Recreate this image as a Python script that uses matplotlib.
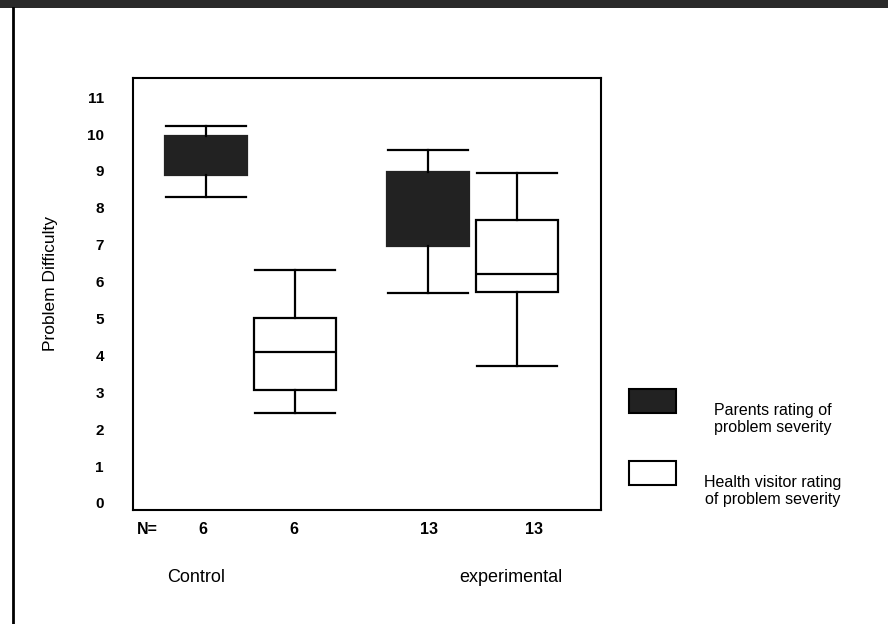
import matplotlib.pyplot as plt
from matplotlib.patches import Rectangle
from matplotlib.lines import Line2D

plt.rcParams['font.family'] = ['Liberation Sans', 'DejaVu Sans']

# data
groups = ['Control', 'experimental']
raters = ['Parents rating of\nproblem severity', 'Health visitor rating\nof problem severity']
n_counts = [6, 6, 13, 13]
whisker_low = [8.29, 2.44, 5.68, 3.72]
q1 = [8.89, 3.06, 6.96, 5.71]
median = [9.4, 4.09, 8.0, 6.2]   # medians of the dark boxes are hidden by the fill
q3 = [9.95, 5.02, 8.97, 7.66]
whisker_high = [10.22, 6.32, 9.57, 8.94]

dark = '#222222'
fills = [dark, 'white', dark, 'white']

group_x = [1, 2]
offset = 0.2
positions = [g + d for g in group_x for d in (-offset, offset)]
n_label_x = [0.788, 1.198, 1.802, 2.275]  # the N= row is not quite under the boxes

stats = []
for i in range(4):
    stats.append({'whislo': whisker_low[i], 'q1': q1[i], 'med': median[i],
                  'q3': q3[i], 'whishi': whisker_high[i], 'fliers': []})

fig = plt.figure(figsize=(8.88, 6.24), dpi=100)
ax = fig.add_axes([133 / 888, 1 - 510 / 624, 468 / 888, 432 / 624])

lw = 1.6
bp = ax.bxp(stats, positions=positions, widths=0.37, capwidths=0.36,
            patch_artist=True, showfliers=False,
            boxprops=dict(linewidth=lw, edgecolor='black'),
            whiskerprops=dict(linewidth=lw, color='black'),
            capprops=dict(linewidth=lw, color='black'),
            medianprops=dict(linewidth=lw, color='black'))
for box, fc in zip(bp['boxes'], fills):
    box.set_facecolor(fc)
    if fc == dark:
        box.set_edgecolor(dark)
for med, fc in zip(bp['medians'], fills):
    if fc == dark:
        med.set_color(dark)

ax.set_xlim(0.473, 2.577)
ax.set_ylim(-0.19, 11.52)
ax.set_xticks([])
ax.set_yticks(range(12))
ax.tick_params(axis='y', length=0, pad=21, labelsize=11)
for lab in ax.get_yticklabels():
    lab.set_fontweight('bold')
for sp in ax.spines.values():
    sp.set_linewidth(1.5)

# N= row under the axes
tr = ax.get_xaxis_transform()
ax.text(0.491, -0.046, 'N=', transform=tr, ha='left', va='center',
        fontsize=11.5, fontweight='bold')
for x, n in zip(n_label_x, n_counts):
    ax.text(x, -0.046, str(n), transform=tr, ha='center', va='center',
            fontsize=11.5, fontweight='bold')

# group names
ax.text(0.757, -0.157, groups[0], transform=tr, ha='center', va='center', fontsize=13)
ax.text(2.17, -0.157, groups[1], transform=tr, ha='center', va='center', fontsize=13)

fig.text(50 / 888, 1 - 284 / 624, 'Problem Difficulty', rotation=90,
         ha='center', va='center', fontsize=12.5)

# legend drawn by hand, as in the original
leg_y = [401, 473]
for (y, fc, label) in zip(leg_y, [dark, 'white'], raters):
    fig.patches.append(Rectangle((629 / 888, 1 - (y + 12) / 624), 47 / 888, 24 / 624,
                                 facecolor=fc, edgecolor='black', linewidth=1.5,
                                 transform=fig.transFigure))
    fig.text(773 / 888, 1 - (y + 18) / 624, label, ha='center', va='center',
             fontsize=11.5, linespacing=1.15)

# scan border: dark band on top, black line on the left
fig.patches.append(Rectangle((0, 1 - 8 / 624), 1, 8 / 624, facecolor='#2a2a2a',
                             edgecolor='none', transform=fig.transFigure))
fig.lines.append(Line2D([13 / 888, 13 / 888], [0, 1 - 8 / 624], color='black',
                        linewidth=2, transform=fig.transFigure))

fig.savefig('out.png', dpi=100)
